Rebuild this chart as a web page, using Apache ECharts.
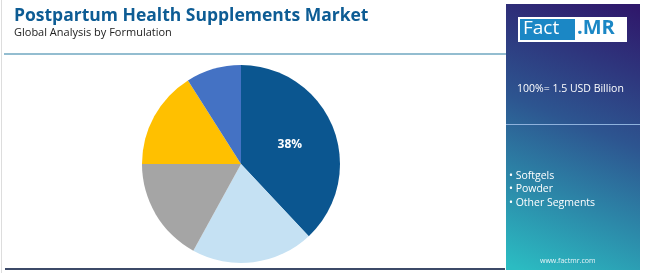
<!DOCTYPE html>
<html>
<head>
<meta charset="utf-8">
<script src="https://cdn.jsdelivr.net/npm/echarts@6/dist/echarts.min.js"></script>
<style>
  html, body { margin: 0; padding: 0; background: #fff; }
  #chart { width: 650px; height: 273px; }
</style>
</head>
<body>
<div id="chart"></div>
<script>
// slices clockwise from 12 o'clock
const segments = ['Segment A', 'Segment B', 'Softgels', 'Powder', 'Other Segments'];
const shares = [38, 20, 17, 16, 9];
const colors = ['#0b5690', '#c5e1f3', '#a5a5a5', '#ffc000', '#4472c4'];
const legendItems = ['Softgels', 'Powder', 'Other Segments'];
const marketSize = '100%= 1.5 USD Billion';

const chart = echarts.init(document.getElementById('chart'));

const legendText = legendItems.map((s) => '• ' + s).join('\n');

const option = {
  animation: false,
  title: {
    text: 'Postpartum Health Supplements Market',
    subtext: 'Global Analysis by Formulation',
    left: 9,
    top: 2,
    itemGap: 2,
    textStyle: { fontFamily: 'Open Sans', fontWeight: 'bold', fontSize: 17.5, color: '#0d5c94' },
    subtextStyle: { fontFamily: 'Open Sans', fontSize: 11, color: '#222' },
  },
  graphic: [
    // page border lines
    { type: 'rect', shape: { x: 1, y: 0, width: 1, height: 273 }, style: { fill: '#ddd' } },
    { type: 'rect', shape: { x: 4, y: 53, width: 502, height: 2 }, style: { fill: '#93bdd0' } },
    { type: 'rect', shape: { x: 5, y: 268, width: 500, height: 2 }, style: { fill: '#3c4a68' } },
    // right panel
    {
      type: 'rect',
      shape: { x: 506, y: 4, width: 134, height: 266 },
      style: {
        fill: new echarts.graphic.LinearGradient(0.9, 0, 0.1, 1, [
          { offset: 0, color: '#2f186b' },
          { offset: 0.45, color: '#2d5590' },
          { offset: 1, color: '#2bbcc2' },
        ]),
      },
    },
    { type: 'rect', shape: { x: 506, y: 124, width: 134, height: 1 }, style: { fill: '#8fb2dd' } },
    // logo
    { type: 'rect', shape: { x: 518, y: 17, width: 109, height: 25 }, style: { fill: '#ffffff' } },
    { type: 'rect', shape: { x: 520, y: 19, width: 55, height: 21 }, style: { fill: '#1b87c5' } },
    {
      type: 'text', left: 523, top: 19,
      style: { text: 'Fact', fill: '#fff', font: '19px "Open Sans"' },
    },
    {
      type: 'text', left: 577, top: 18,
      style: { text: '.MR', fill: '#1b87c5', font: 'bold 20px "Open Sans"' },
    },
    {
      type: 'text', left: 517, top: 84,
      style: { text: marketSize, fill: '#fff', font: '10.5px "Open Sans"' },
    },
    {
      type: 'text', left: 509, top: 169,
      style: { text: legendText, fill: '#fff', font: '10.5px "Open Sans"', lineHeight: 13.5 },
    },
    {
      type: 'text', left: 540, top: 257,
      style: { text: 'www.factmr.com', fill: '#e8f4f8', font: '7px "Open Sans"' },
    },
  ],
  series: [
    {
      type: 'pie',
      center: [241, 164],
      radius: 99,
      startAngle: 90,
      clockwise: true,
      silent: true,
      data: segments.map((name, i) => ({
        name,
        value: shares[i],
        itemStyle: { color: colors[i] },
        label: { show: i === 0 },
      })),
      label: {
        position: 'inner',
        formatter: '{d}%',
        color: '#fff',
        fontFamily: 'Open Sans',
        fontWeight: 'bold',
        fontSize: 12,
      },
      labelLine: { show: false },
    },
  ],
};

chart.setOption(option);
</script>
</body>
</html>
